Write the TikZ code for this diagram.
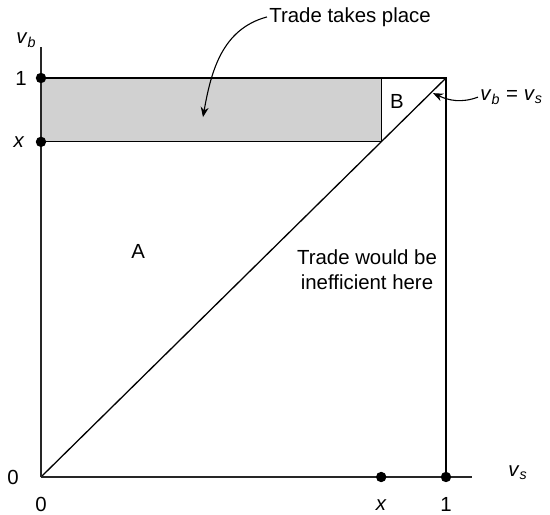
\documentclass[tikz,border=0pt]{standalone}
\usepackage{fontspec}
\setmainfont{Liberation Sans}
\usetikzlibrary{arrows.meta, positioning}
\newcommand{\vbuy}{\textit{v}\textsubscript{\textit{b}}}
\newcommand{\vsell}{\textit{v}\textsubscript{\textit{s}}}
\tikzset{
  axis/.style={line width=0.65pt, black!85},
  edge/.style={line width=0.65pt, black},
  dot/.style={circle, fill=black, inner sep=0pt, minimum size=5.2pt},
  lbl/.style={font=\fontsize{10.2}{12.5}\selectfont, inner sep=1pt, align=center},
  arr/.style={-{Stealth[length=5pt,width=4pt]}, line width=0.55pt},
  tradebox/.style={fill=black!18, draw=black, line width=0.65pt},
}
\begin{document}
\begin{tikzpicture}[x=202.5pt, y=199.5pt]
  \useasboundingbox (-0.1012,-0.0952) rectangle (1.2568,1.1955);
  \def\xv{0.84}
  %% points on the axes
  \coordinate (O)    at (0,0);
  \coordinate (ytop) at (0,1.078);
  \coordinate (xend) at (1.064,0);
  \coordinate (C)    at (1,1);
  \coordinate (Bx)   at (\xv,1);
  %% shaded region
  \draw[tradebox] (0,\xv) rectangle (Bx);
  \draw[edge] (Bx) -- (C) -- (1,0);
  \draw[edge] (O) -- (C);
  \draw[axis] (O) -- (ytop);
  \draw[axis] (O) -- (xend);
  %% dots
  \node[dot] (y1) at (0,1) {};
  \node[dot] (yx) at (0,\xv) {};
  \node[dot] (x1) at (1,0) {};
  \node[dot] (xx) at (\xv,0) {};
  %% axis labels
  \node[lbl] (vb)  at (-0.036,1.095) {\vbuy};
  \node[lbl, anchor=west] (vs) at (1.148,0.012) {\vsell};
  \node[lbl] (l1)  at (-0.049,1) {1};
  \node[lbl] (lx)  at (-0.054,\xv) {\textit{x}};
  \node[lbl] (l0)  at (-0.069,0) {0};
  \node[lbl] (b0)  at (0,-0.07) {0};
  \node[lbl] (bx)  at (\xv,-0.07) {\textit{x}};
  \node[lbl] (b1)  at (1,-0.07) {1};
  %% regions
  \node[lbl] (A) at (0.24,0.564) {A};
  \node[lbl] (B) at (0.879,0.942) {B};
  \node[lbl] (ineff) at (0.805,0.519) {Trade would be\\inefficient here};
  %% annotations
  \node[lbl, anchor=west] (takes) at (0.558,1.153) {Trade takes place};
  \coordinate (tip1) at (0.4,0.902);
  \draw[arr] (takes.west) to[out=195, in=80] (tip1);
  \node[lbl, anchor=west] (eq) at (1.079,0.952) {\vbuy{} = \vsell};
  \coordinate (tip2) at (0.968,0.962);
  \draw[arr] (eq.west) to[out=200, in=-25] (tip2);
\end{tikzpicture}
\end{document}
